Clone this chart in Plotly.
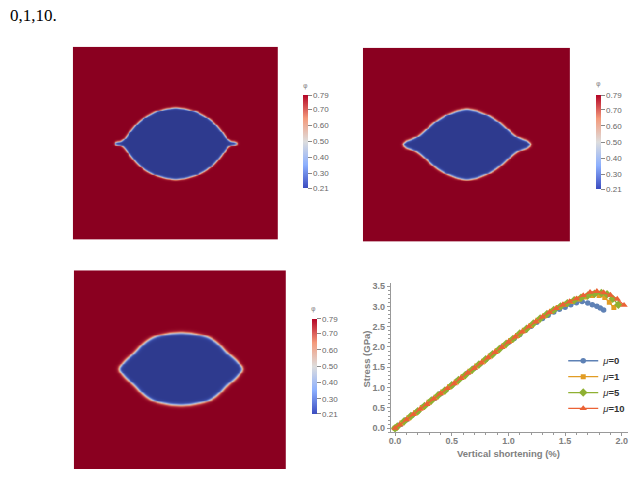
import numpy as np
import plotly.graph_objects as go

# ---------------- Data: stress-strain curves ----------------
x_mu0 = [0.00, 0.05, 0.10, 0.15, 0.20, 0.25, 0.30, 0.35, 0.40, 0.45, 0.50, 0.55, 0.60, 0.65, 0.70, 0.75, 0.80,
         0.85, 0.90, 0.95, 1.00, 1.05, 1.10, 1.15, 1.20, 1.25, 1.30, 1.35, 1.40, 1.45, 1.50, 1.55, 1.60, 1.65,
         1.70, 1.74, 1.78, 1.81, 1.84]
y_mu0 = [0.00, 0.10, 0.21, 0.32, 0.42, 0.53, 0.64, 0.74, 0.85, 0.95, 1.06, 1.17, 1.27, 1.38, 1.48, 1.59, 1.69,
         1.80, 1.90, 2.01, 2.11, 2.21, 2.31, 2.41, 2.51, 2.61, 2.70, 2.78, 2.86, 2.93, 2.98, 3.04, 3.09, 3.12,
         3.08, 3.04, 3.00, 2.96, 2.91]

x_mu1 = [0.00, 0.06, 0.12, 0.18, 0.24, 0.30, 0.36, 0.42, 0.48, 0.54, 0.60, 0.66, 0.72, 0.78, 0.84, 0.90, 0.96,
         1.02, 1.08, 1.14, 1.20, 1.26, 1.32, 1.38, 1.44, 1.50, 1.56, 1.62, 1.68, 1.74, 1.80, 1.85, 1.89, 1.93]
y_mu1 = [0.00, 0.13, 0.25, 0.38, 0.51, 0.64, 0.76, 0.89, 1.02, 1.14, 1.27, 1.40, 1.53, 1.65, 1.78, 1.91, 2.03,
         2.16, 2.28, 2.41, 2.53, 2.66, 2.77, 2.88, 2.97, 3.05, 3.12, 3.18, 3.23, 3.27, 3.27, 3.22, 3.10, 2.97]

x_mu5 = [0.00, 0.02, 0.08, 0.14, 0.20, 0.26, 0.32, 0.38, 0.44, 0.50, 0.56, 0.62, 0.68, 0.74, 0.80, 0.86, 0.92,
         0.98, 1.04, 1.10, 1.16, 1.22, 1.28, 1.34, 1.40, 1.46, 1.52, 1.58, 1.64, 1.70, 1.76, 1.82, 1.87, 1.92, 1.97]
y_mu5 = [0.00, 0.04, 0.17, 0.30, 0.42, 0.55, 0.68, 0.81, 0.93, 1.06, 1.19, 1.31, 1.44, 1.57, 1.70, 1.82, 1.95,
         2.08, 2.20, 2.33, 2.45, 2.58, 2.70, 2.81, 2.91, 3.00, 3.08, 3.15, 3.21, 3.27, 3.31, 3.33, 3.30, 3.19, 3.04]

x_mu10 = [0.00, 0.04, 0.10, 0.16, 0.22, 0.28, 0.34, 0.40, 0.46, 0.52, 0.58, 0.64, 0.70, 0.76, 0.82, 0.88, 0.94,
          1.00, 1.06, 1.12, 1.18, 1.24, 1.30, 1.36, 1.42, 1.48, 1.54, 1.60, 1.66, 1.72, 1.78, 1.84, 1.90, 1.96, 2.02]
y_mu10 = [0.00, 0.08, 0.21, 0.34, 0.47, 0.59, 0.72, 0.85, 0.98, 1.10, 1.23, 1.36, 1.48, 1.61, 1.74, 1.87, 1.99,
          2.12, 2.25, 2.37, 2.50, 2.62, 2.74, 2.85, 2.95, 3.04, 3.12, 3.19, 3.27, 3.35, 3.37, 3.34, 3.28, 3.18, 3.03]

series_names = ["μ=0", "μ=1", "μ=5", "μ=10"]
x_ticks = [0.0, 0.5, 1.0, 1.5, 2.0]
y_ticks = [0.0, 0.5, 1.0, 1.5, 2.0, 2.5, 3.0, 3.5]
x_title = "Vertical shortening (%)"
y_title = "Stress (GPa)"

# ---------------- Data: phase-field snapshots (lens half-thickness profiles) ----------------
# offset from lens centre (fraction of box width) -> half thickness (fraction of box height)
p1_off = [0.000, 0.049, 0.098, 0.146, 0.185, 0.220, 0.244, 0.259, 0.268, 0.285, 0.293, 0.297]
p1_half = [0.186, 0.180, 0.165, 0.139, 0.108, 0.067, 0.031, 0.015, 0.009, 0.008, 0.007, 0.000]
p1_centre = (0.50, 0.50)

p2_off = [0.000, 0.048, 0.097, 0.145, 0.176, 0.193, 0.225, 0.246, 0.273, 0.290, 0.302, 0.307]
p2_half = [0.182, 0.173, 0.153, 0.123, 0.097, 0.080, 0.051, 0.036, 0.024, 0.019, 0.013, 0.000]
p2_centre = (0.50, 0.503)

p3_off = [0.000, 0.047, 0.094, 0.121, 0.142, 0.168, 0.189, 0.208, 0.231, 0.255, 0.269, 0.283, 0.290]
p3_half = [0.1825, 0.1795, 0.170, 0.1625, 0.1525, 0.135, 0.115, 0.0925, 0.070, 0.050, 0.035, 0.0175, 0.000]
p3_centre = (0.502, 0.505)

phi_min, phi_max = 0.21, 0.79
cbar_ticks = [0.21, 0.30, 0.40, 0.50, 0.60, 0.70, 0.79]


def phase_field(off, half, centre, width, n=220):
    off = np.asarray(off, float)
    half = np.asarray(half, float)
    # smooth the read-off profile slightly
    fo = np.linspace(0, off[-1], 120)
    fh = np.interp(fo, off, half)
    k = 4
    pad = np.concatenate([fh[k:0:-1], fh, np.full(k, fh[-1])])
    fh = np.convolve(pad, np.ones(2 * k + 1) / (2 * k + 1), mode="same")[k:-k]
    fh[-1] = 0.0
    off, half = fo, fh
    xc, yc = centre
    ux = np.concatenate([xc - off[::-1], xc + off[1:]])
    uy = np.concatenate([yc + half[::-1], yc + half[1:]])
    lx = ux[::-1][1:-1]
    ly = (2 * yc - uy)[::-1][1:-1]
    px = np.concatenate([ux, lx])
    py = np.concatenate([uy, ly])
    ax, ay = px, py
    bx, by = np.roll(px, -1), np.roll(py, -1)
    g = (np.arange(n) + 0.5) / n
    X, Y = np.meshgrid(g, g)
    P = np.stack([X.ravel(), Y.ravel()], 1)
    dx, dy = bx - ax, by - ay
    L2 = dx * dx + dy * dy + 1e-12
    d = np.full(P.shape[0], np.inf)
    for s in range(0, P.shape[0], 8000):
        Q = P[s:s + 8000]
        t = np.clip(((Q[:, 0:1] - ax) * dx + (Q[:, 1:2] - ay) * dy) / L2, 0, 1)
        dd = np.sqrt((Q[:, 0:1] - ax - t * dx) ** 2 + (Q[:, 1:2] - ay - t * dy) ** 2).min(1)
        d[s:s + 8000] = dd
    d = d.reshape(n, n)
    h = np.interp(np.abs(X - xc), off, half, right=-1.0)
    inside = np.abs(Y - yc) < h
    d = np.where(inside, -d, d)
    mid = 0.5 * (phi_min + phi_max)
    amp = 0.5 * (phi_max - phi_min)
    return g, mid + amp * np.tanh(d / width)


field_cs = [[0.0, "#2E3A8E"], [0.12, "#3A4DAA"], [0.3, "#7A94D8"], [0.44, "#B4BED8"], [0.52, "#D4C8C8"],
            [0.62, "#E6A888"], [0.74, "#DE7A5C"], [0.87, "#B0283A"], [1.0, "#8A0020"]]
bar_cs = [[0.0, "#3B4CC0"], [0.25, "#8DB0FE"], [0.5, "#DDDDDD"], [0.75, "#F49A7B"], [1.0, "#B40426"]]

W, H = 635, 477
fig = go.Figure()

colors = ["#5E81B5", "#E19C24", "#8FB032", "#EB6235"]
symbols = ["circle", "square", "diamond", "triangle-up"]
sizes = [5.5, 5, 6.5, 6.5]
legend_ids = ["legend", "legend2", "legend3", "legend4"]
legend_rows = [361, 377, 393, 409]
for name, xs, ys, c, s, sz, lg in zip(series_names, [x_mu0, x_mu1, x_mu5, x_mu10],
                                      [y_mu0, y_mu1, y_mu5, y_mu10], colors, symbols, sizes, legend_ids):
    fig.add_trace(go.Scatter(x=xs, y=ys, mode="lines+markers", name="<i>μ</i><b>" + name[1:] + "</b>",
                             line=dict(color=c, width=1.3), marker=dict(color=c, symbol=s, size=sz),
                             xaxis="x", yaxis="y", legend=lg))

panels = [
    (p1_off, p1_half, p1_centre, 0.006, "x2", "y2", [71, 277, 45, 239], [302, 94, 187], (304, 85)),
    (p2_off, p2_half, p2_centre, 0.007, "x3", "y3", [362, 570, 46, 241], [596, 94, 188], (598, 83)),
    (p3_off, p3_half, p3_centre, 0.0095, "x4", "y4", [72, 285, 270, 470], [311, 319, 414], (312, 309)),
]
axis_font = dict(size=9, color="#808080", family="Liberation Sans")
title_font = dict(size=9.5, color="#808080", family="Liberation Sans")
annotations = [
    dict(text="0,1,10.", x=6 / W, y=1 - 14 / H, xref="paper", yref="paper",
         xanchor="left", yanchor="middle", showarrow=False,
         font=dict(size=17, color="black", family="Liberation Serif")),
    dict(text="<b>" + x_title + "</b>", x=508 / W, y=1 - 454 / H, xref="paper", yref="paper",
         xanchor="center", yanchor="middle", showarrow=False, font=title_font),
    dict(text="<b>" + y_title + "</b>", x=366 / W, y=1 - 359 / H, xref="paper", yref="paper",
         xanchor="center", yanchor="middle", showarrow=False, font=title_font, textangle=-90),
]
for i, (off, half, cen, wd, xa, ya, box, cb, tpos) in enumerate(panels):
    g, z = phase_field(off, half, cen, wd)
    fig.add_trace(go.Heatmap(x=g, y=g, z=z, colorscale=field_cs, zmin=phi_min, zmax=phi_max,
                             showscale=False, zsmooth="best", xaxis=xa, yaxis=ya, hoverinfo="skip"))
    cbar = dict(x=cb[0] / W, xanchor="left", xpad=0, ypad=0,
                y=1 - (cb[1] + cb[2]) / 2 / H, yanchor="middle",
                lenmode="pixels", len=cb[2] - cb[1],
                thickness=5, outlinewidth=0,
                tickvals=cbar_ticks, ticktext=["%.2f" % v for v in cbar_ticks],
                ticks="outside", ticklen=4, tickwidth=1, tickcolor="#888",
                tickfont=dict(size=8, color="#666", family="Liberation Sans"))
    mk = dict(color=[0.5], cmin=phi_min, cmax=phi_max, colorscale=bar_cs,
              opacity=0, size=1, showscale=True, colorbar=cbar)
    fig.add_trace(go.Scatter(x=[0.5], y=[0.5], mode="markers", xaxis=xa, yaxis=ya, showlegend=False,
                             hoverinfo="skip", marker=mk))
    annotations.append(dict(text="φ", x=tpos[0] / W, y=1 - tpos[1] / H, xref="paper", yref="paper",
                            xanchor="center", yanchor="middle", showarrow=False,
                            font=dict(size=7, color="#888", family="DejaVu Sans")))
    n = str(i + 2)
    fig.layout["xaxis" + n] = dict(domain=[box[0] / W, box[1] / W], visible=False, range=[0, 1],
                                   anchor="y" + n)
    fig.layout["yaxis" + n] = dict(domain=[1 - box[3] / H, 1 - box[2] / H], visible=False, range=[0, 1],
                                   anchor="x" + n)

legend_font = dict(size=9.5, color="#333", family="Liberation Sans")
layout_legends = {}
for lg, row in zip(legend_ids, legend_rows):
    layout_legends[lg] = dict(x=563 / W, y=1 - row / H, xanchor="left", yanchor="middle",
                              bgcolor="rgba(0,0,0,0)", font=legend_font, itemwidth=30,
                              borderwidth=0)

fig.update_layout(
    width=W, height=H, margin=dict(l=0, r=0, t=0, b=0),
    paper_bgcolor="white", plot_bgcolor="white",
    xaxis=dict(domain=[390 / W, 628 / W], range=[-0.038, 2.055], tickvals=x_ticks,
               ticktext=["<b>%.1f</b>" % v for v in x_ticks], ticks="outside", ticklen=3, tickcolor="#999",
               showline=True, linecolor="#999", linewidth=1, showgrid=False, zeroline=False,
               minor=dict(ticks="outside", ticklen=2, dtick=0.1, tick0=0, tickcolor="#999", showgrid=False),
               tickfont=axis_font, anchor="y", ticklabelstandoff=-3),
    yaxis=dict(domain=[1 - 433 / H, 1 - 283 / H], range=[-0.1, 3.57], tickvals=y_ticks,
               ticktext=["<b>%.1f</b>" % v for v in y_ticks], ticks="outside", ticklen=3, tickcolor="#999",
               showline=True, linecolor="#999", linewidth=1, showgrid=False, zeroline=False,
               minor=dict(ticks="outside", ticklen=2, dtick=0.1, tick0=0, tickcolor="#999", showgrid=False),
               tickfont=axis_font, anchor="x"),
    annotations=annotations,
    **layout_legends,
)

fig.write_html("out.html")
